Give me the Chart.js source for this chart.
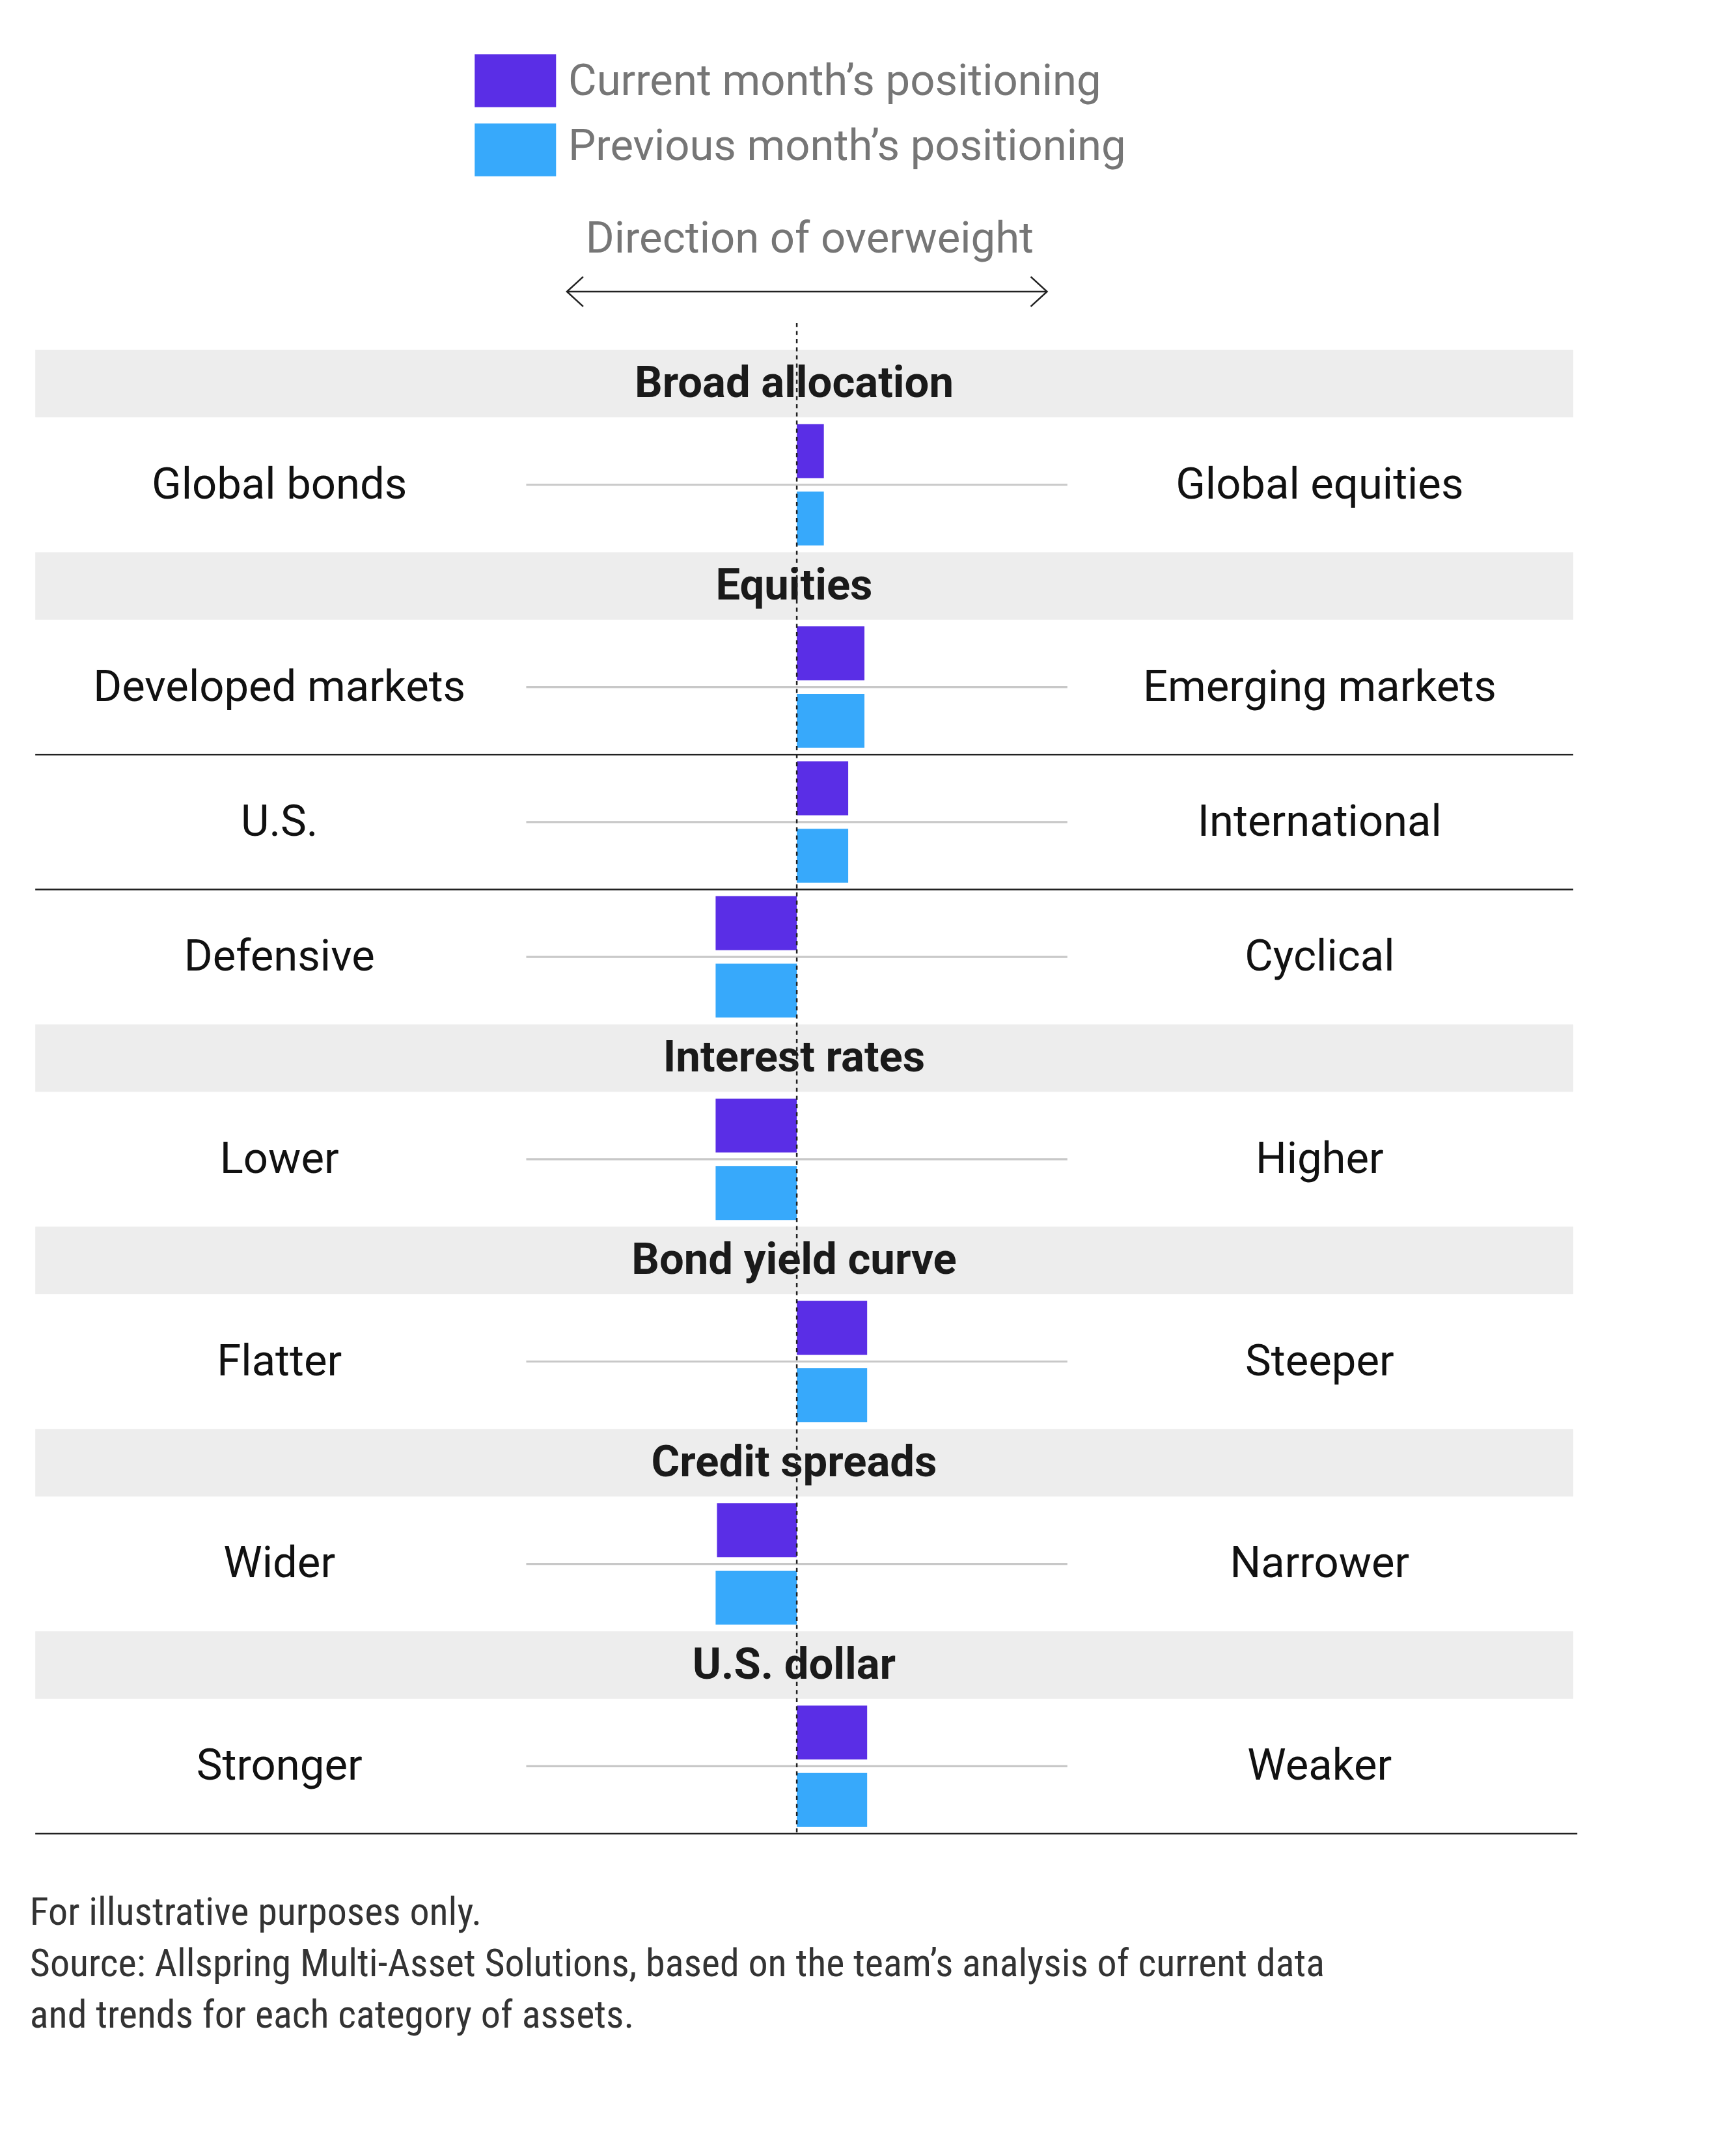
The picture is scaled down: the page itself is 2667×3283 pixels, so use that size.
<!DOCTYPE html>
<html>
<head>
<meta charset="utf-8">
<script src="https://cdn.jsdelivr.net/npm/chart.js@4"></script>
<style>
html,body{margin:0;padding:0;background:#fff;}
#wrap{position:relative;width:2667px;height:3283px;}
</style>
</head>
<body>
<div id="wrap"><canvas id="c"></canvas></div>
<script>
// data
var sections = ["Broad allocation", "Equities", "Interest rates", "Bond yield curve", "Credit spreads", "U.S. dollar"];
var rowSection = [0, 1, 1, 1, 2, 3, 4, 5];
var leftLabels = ["Global bonds", "Developed markets", "U.S.", "Defensive", "Lower", "Flatter", "Wider", "Stronger"];
var rightLabels = ["Global equities", "Emerging markets", "International", "Cyclical", "Higher", "Steeper", "Narrower", "Weaker"];
var currentVals = [1.0, 2.5, 1.9, -3.0, -3.0, 2.6, -2.95, 2.6];
var previousVals = [1.0, 2.5, 1.9, -3.0, -3.0, 2.6, -3.0, 2.6];

var S = 2667 / 1280;
var PURPLE = "#5a2ee6", BLUE = "#37a9fb";
var FONT = "Roboto, 'Noto Sans', sans-serif";

// build slots: one per header, two per row
var slots = [], curData = [], prevData = [], slotInfo = [];
var lastSec = -1;
for (var i = 0; i < leftLabels.length; i++) {
  if (rowSection[i] != lastSec) {
    lastSec = rowSection[i];
    slots.push("h" + lastSec); curData.push(null); prevData.push(null);
    slotInfo.push({type: "header", sec: lastSec});
  } else {
    slotInfo[slotInfo.length - 1].divider = true;
  }
  slots.push("r" + i + "a"); curData.push(currentVals[i]); prevData.push(null);
  slotInfo.push({type: "rowA", row: i});
  slots.push("r" + i + "b"); curData.push(null); prevData.push(previousVals[i]);
  slotInfo.push({type: "rowB", row: i});
}

function font(px, weight) { return (weight || "normal") + " " + Math.round(px * S) + "px " + FONT; }

var decor = {
  id: "decor",
  beforeDatasetsDraw: function(chart) {
    var ctx = chart.ctx, y = chart.scales.y, a = chart.chartArea;
    var half = (y.getPixelForValue(1) - y.getPixelForValue(0)) / 2;
    var L = 26 * S, R = 1160 * S;
    ctx.save();
    for (var k = 0; k < slotInfo.length; k++) {
      var s = slotInfo[k], cy = y.getPixelForValue(k);
      if (s.type == "header") {
        ctx.fillStyle = "#ededed";
        ctx.fillRect(L, cy - half, R - L, half * 2);
        ctx.fillStyle = "#1a1a1a";
        ctx.font = font(32, "bold");
        ctx.textAlign = "center"; ctx.textBaseline = "middle";
        ctx.fillText(sections[s.sec], a.left + (a.right - a.left) / 2 - 2 * S, cy + 2 * S);
      } else if (s.type == "rowA") {
        var mid = cy + half;
        ctx.strokeStyle = "#c8c8c8"; ctx.lineWidth = 1.5 * S;
        ctx.beginPath(); ctx.moveTo(a.left, mid); ctx.lineTo(a.right, mid); ctx.stroke();
        ctx.fillStyle = "#111"; ctx.font = font(32);
        ctx.textAlign = "center"; ctx.textBaseline = "middle";
        ctx.fillText(leftLabels[s.row], 206 * S, mid + 2 * S);
        ctx.fillText(rightLabels[s.row], 973 * S, mid + 2 * S);
      } else if (s.type == "rowB") {
        var next = slotInfo[k + 1];
        if (!next || next.type == "rowA") {
          var by = cy + half;
          ctx.strokeStyle = "#222"; ctx.lineWidth = 1.2 * S;
          ctx.beginPath(); ctx.moveTo(L, by); ctx.lineTo(next ? R : 1163 * S, by); ctx.stroke();
        }
      }
    }
    ctx.restore();
  },
  afterDatasetsDraw: function(chart) {
    var ctx = chart.ctx, x = chart.scales.x, a = chart.chartArea;
    var x0 = x.getPixelForValue(0);
    ctx.save();
    ctx.strokeStyle = "#222"; ctx.lineWidth = 1.2 * S;
    ctx.setLineDash([3 * S, 3 * S]);
    ctx.beginPath(); ctx.moveTo(x0, 238 * S); ctx.lineTo(x0, a.bottom); ctx.stroke();
    ctx.setLineDash([]);
    // legend
    ctx.fillStyle = PURPLE; ctx.fillRect(350 * S, 40 * S, 60 * S, 39 * S);
    ctx.fillStyle = BLUE; ctx.fillRect(350 * S, 91 * S, 60 * S, 39 * S);
    ctx.fillStyle = "#767676"; ctx.font = font(32);
    ctx.textAlign = "left"; ctx.textBaseline = "middle";
    ctx.fillText("Current month\u2019s positioning", 419 * S, 62 * S);
    ctx.fillText("Previous month\u2019s positioning", 419 * S, 110 * S);
    ctx.textAlign = "center";
    ctx.fillText("Direction of overweight", 597 * S, 178 * S);
    // arrow
    ctx.strokeStyle = "#222"; ctx.lineWidth = 1.2 * S;
    ctx.beginPath();
    ctx.moveTo(418 * S, 215 * S); ctx.lineTo(772 * S, 215 * S);
    ctx.moveTo(430 * S, 204 * S); ctx.lineTo(418 * S, 215 * S); ctx.lineTo(430 * S, 226 * S);
    ctx.moveTo(760 * S, 204 * S); ctx.lineTo(772 * S, 215 * S); ctx.lineTo(760 * S, 226 * S);
    ctx.stroke();
    // footnote
    ctx.fillStyle = "#333"; ctx.textAlign = "left";
    ctx.font = "normal " + Math.round(29 * S) + "px 'Liberation Sans Narrow', 'Roboto Condensed', Roboto, sans-serif";
    ctx.fillText("For illustrative purposes only.", 22 * S, 1412 * S);
    ctx.fillText("Source: Allspring Multi-Asset Solutions, based on the team\u2019s analysis of current data", 22 * S, 1450 * S);
    ctx.fillText("and trends for each category of assets.", 22 * S, 1488 * S);
    ctx.restore();
  }
};

new Chart("c", {
  type: "bar",
  data: {
    labels: slots,
    datasets: [
      {label: "Current month\u2019s positioning", data: curData, backgroundColor: PURPLE},
      {label: "Previous month\u2019s positioning", data: prevData, backgroundColor: BLUE}
    ]
  },
  options: {
    indexAxis: "y",
    responsive: true,
    maintainAspectRatio: false,
    animation: false,
    grouped: false,
    barPercentage: 0.8,
    categoryPercentage: 1,
    layout: {padding: {left: 388 * S, right: (1280 - 787) * S, top: 258 * S, bottom: (3283 / S - 1352) * S}},
    scales: {
      x: {display: false, min: -10, max: 10},
      y: {display: false}
    },
    plugins: {legend: {display: false}, tooltip: {enabled: false}}
  },
  plugins: [decor]
});
</script>
</body>
</html>
